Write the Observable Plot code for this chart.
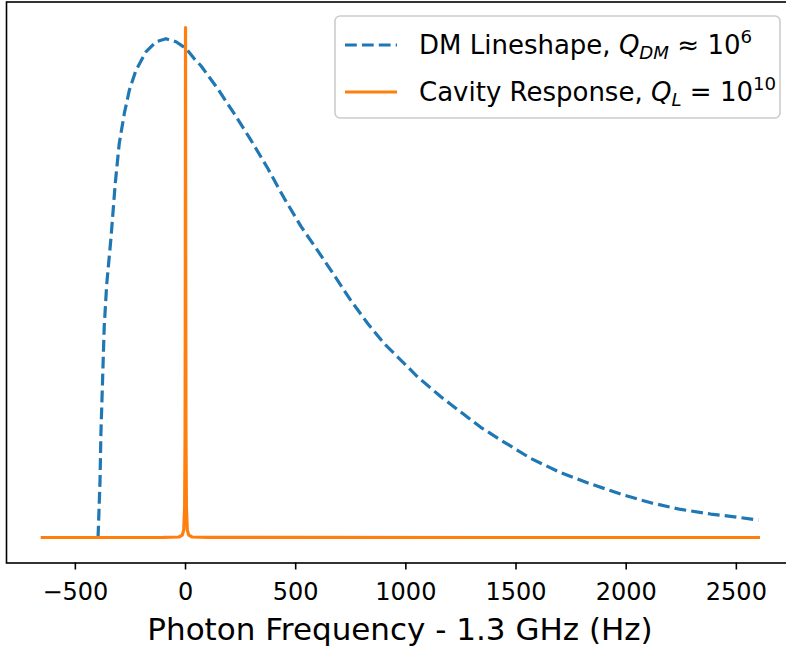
<!DOCTYPE html>
<html>
<head>
<meta charset="utf-8">
<script src="https://cdn.jsdelivr.net/npm/d3@7"></script>
<script src="https://cdn.jsdelivr.net/npm/@observablehq/plot@0.6"></script>
<style>
  html, body { margin: 0; padding: 0; background: white; overflow: hidden; }
  svg text { white-space: pre; }
</style>
</head>
<body>
<div id="chart"></div>
<script>
// DM lineshape (normalized)
const dmFreq = [-397, -388, -384, -376, -369, -358, -338, -319, -301, -278, -255, -225, -180, -134, -89, -43, 2, 39, 70, 146, 221, 297, 373, 448, 524, 599, 675, 750, 826, 902, 977, 1053, 1159, 1340, 1431, 1567, 1703, 1839, 1976, 2112, 2248, 2384, 2520, 2600];
const dmValue = [0, 0.112, 0.204, 0.315, 0.413, 0.495, 0.589, 0.694, 0.772, 0.831, 0.877, 0.916, 0.952, 0.972, 0.978, 0.972, 0.959, 0.939, 0.925, 0.880, 0.831, 0.779, 0.724, 0.665, 0.610, 0.563, 0.514, 0.465, 0.420, 0.380, 0.348, 0.315, 0.276, 0.216, 0.191, 0.155, 0.127, 0.105, 0.085, 0.068, 0.055, 0.046, 0.039, 0.034];

// Cavity response (normalized)
const cavFreq = [-650, -100, -30, -15, -8, -4, -2, -1, 0, 1, 2, 4, 8, 15, 30, 100, 2600];
const cavValue = [0, 0.0001, 0.001, 0.0045, 0.015, 0.06, 0.2, 0.5, 1, 0.5, 0.2, 0.06, 0.015, 0.0045, 0.001, 0.0001, 0];

const xTicks = [-500, 0, 500, 1000, 1500, 2000, 2500];
const xLabel = "Photon Frequency - 1.3 GHz (Hz)";

const dm = dmFreq.map((f, i) => ({f, v: dmValue[i]}));
const cav = cavFreq.map((f, i) => ({f, v: cavValue[i]}));

const xMin = d3.min([...dmFreq, ...cavFreq]), xMax = d3.max([...dmFreq, ...cavFreq]);
const xPad = (xMax - xMin) * 0.05;
const yMin = 0, yMax = d3.max([...dmValue, ...cavValue]);
const yPad = (yMax - yMin) * 0.05;

const chart = Plot.plot({
  width: 786,
  height: 648,
  marginLeft: 6,
  marginRight: -7.7,
  marginTop: 1.5,
  marginBottom: 85.5,
  style: {fontFamily: "DejaVu Sans", background: "white", color: "black", overflow: "hidden"},
  x: {domain: [xMin - xPad, xMax + xPad]},
  y: {domain: [yMin - yPad, yMax + yPad], axis: null},
  marks: [
    Plot.line(dm, {x: "f", y: "v", stroke: "#1f77b4", strokeWidth: 3.2, strokeDasharray: "11.8,5.1", strokeLinecap: "butt", strokeLinejoin: "round"}),
    Plot.line(cav, {x: "f", y: "v", stroke: "#ff7f0e", strokeWidth: 3.2, strokeLinecap: "square", strokeLinejoin: "round"}),
    Plot.frame({stroke: "black", strokeWidth: 1.6}),
    Plot.axisX(xTicks, {tickSize: 7, tickPadding: 12.5, fontSize: 24, strokeWidth: 1.6, label: null,
      tickFormat: d => d < 0 ? "\u2212" + Math.abs(d) : String(d)})
  ]
});

document.getElementById("chart").appendChild(chart);

const svg = d3.select(chart);
// x axis label
svg.append("text")
  .attr("x", 400).attr("y", 640)
  .attr("text-anchor", "middle")
  .attr("font-family", "DejaVu Sans")
  .attr("font-size", 31)
  .attr("fill", "black")
  .text(xLabel);

// legend
const lg = svg.append("g").attr("font-family", "DejaVu Sans").attr("font-size", 26)
  .attr("fill", "black").attr("text-anchor", "start");
lg.append("rect")
  .attr("x", 335).attr("y", 16).attr("width", 445).attr("height", 102).attr("rx", 5)
  .attr("fill", "white").attr("fill-opacity", 0.8)
  .attr("stroke", "#cccccc").attr("stroke-width", 1.6);
lg.append("line").attr("x1", 345).attr("x2", 397).attr("y1", 45).attr("y2", 45)
  .attr("stroke", "#1f77b4").attr("stroke-width", 3.2).attr("stroke-dasharray", "11.8,5.1");
lg.append("line").attr("x1", 345).attr("x2", 397).attr("y1", 92).attr("y2", 92)
  .attr("stroke", "#ff7f0e").attr("stroke-width", 3.2);

const t1 = lg.append("text").attr("x", 419).attr("y", 54).attr("text-anchor", "start");
t1.append("tspan").text("DM Lineshape, ");
t1.append("tspan").attr("font-style", "italic").text("Q");
t1.append("tspan").attr("font-style", "italic").attr("font-size", 18.2).attr("dy", 5).text("DM");
t1.append("tspan").attr("dy", -5).text(" \u2248 10");
t1.append("tspan").attr("font-size", 18.2).attr("dy", -11).text("6");

const t2 = lg.append("text").attr("x", 419).attr("y", 101).attr("text-anchor", "start");
t2.append("tspan").text("Cavity Response, ");
t2.append("tspan").attr("font-style", "italic").text("Q");
t2.append("tspan").attr("font-style", "italic").attr("font-size", 18.2).attr("dy", 5).text("L");
t2.append("tspan").attr("dy", -5).text(" = 10");
t2.append("tspan").attr("font-size", 18.2).attr("dy", -11).text("10");
</script>
</body>
</html>
